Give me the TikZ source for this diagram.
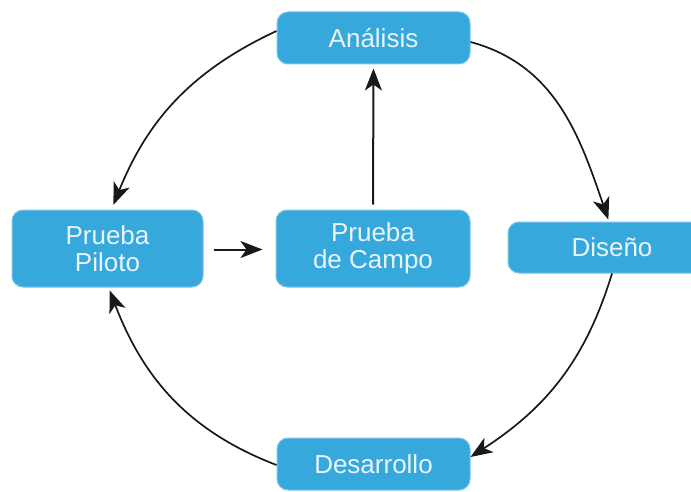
\documentclass[tikz,border=0pt]{standalone}
\usepackage{fontspec}
\setmainfont{Liberation Sans}
\usetikzlibrary{arrows.meta}
\definecolor{boxblue}{HTML}{36A8DC}
\definecolor{boxedge}{HTML}{7CC4E8}
\definecolor{boxtext}{HTML}{E8F5FB}
\begin{document}
\begin{tikzpicture}[x=1pt,y=1pt,
  stage/.style={draw=boxedge, line width=1pt, fill=boxblue, rounded corners=11pt,
    text=boxtext, font=\fontsize{26}{27}\selectfont, align=center,
    inner sep=0pt, anchor=center},
  flow/.style={line width=2pt, draw=black!90,
    -{Stealth[length=22pt,width=17pt,inset=6pt]}},
  loop/.style={flow, line width=1.7pt}]
\useasboundingbox (0,0) rectangle (691,491);
\fill[white] (0,0) rectangle (691,491);

% the five stages
\node[stage, minimum width=193pt, minimum height=52pt] (ana) at (373.5,453) {Análisis};
\node[stage, minimum width=191pt, minimum height=77pt] (pil) at (107.5,242.5) {Prueba\\Piloto};
\node[stage, minimum width=194pt, minimum height=77pt] (cam) at (373,242.5) {Prueba\\de Campo};
\node[stage, minimum width=208pt, minimum height=51pt] (dis) at (612,243.5) {Diseño};
\node[stage, minimum width=193pt, minimum height=52pt] (des) at (373.5,27) {Desarrollo};

% cycle around the outside
\draw[loop, shorten >=5pt] ([yshift=7pt]ana.west) to[out=205, in=68] ([xshift=4pt]pil.north);
\draw[loop, shorten >=2pt] ([yshift=-4pt]ana.east) to[out=-15, in=109] ([xshift=-3pt]dis.north);
\draw[loop] (dis.south) to[out=253, in=33] ([yshift=7pt]des.east);
\draw[loop, shorten >=3pt] ([yshift=-1pt]des.west) to[out=159, in=-69] ([xshift=1pt]pil.south);

% inner steps
\draw[flow, shorten <=10pt, shorten >=13pt] ([yshift=-1pt]pil.east) -- ([yshift=-1pt]cam.west);
\draw[flow, shorten <=5pt, shorten >=4pt] (cam.north) -- (ana.south);
\end{tikzpicture}
\end{document}
